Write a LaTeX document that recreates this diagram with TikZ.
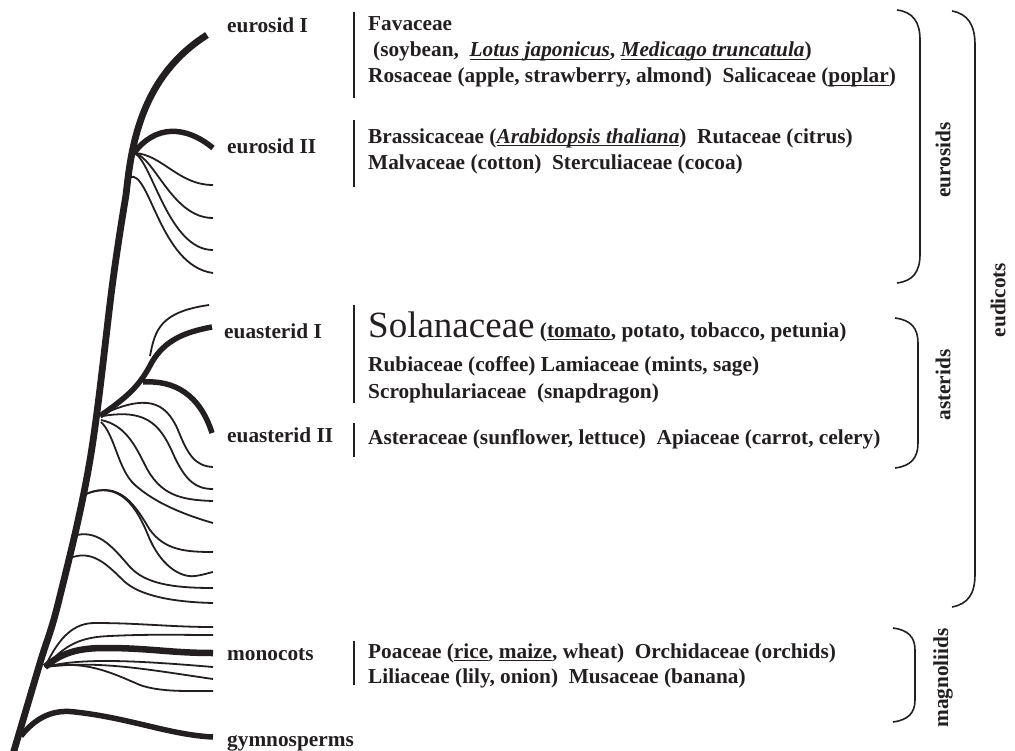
\documentclass[tikz,border=0pt]{standalone}
\usepackage{fontspec}
\setmainfont{Liberation Serif}
\definecolor{ink}{HTML}{231F20}
\newcommand{\fsz}{\fontsize{21.3bp}{24bp}\selectfont}
\newcommand{\bigfsz}{\fontsize{37bp}{40bp}\selectfont}
\newcommand{\myul}[1]{\leavevmode\setbox0=\hbox{#1}\rlap{\raisebox{-3.4bp}{\rule{\wd0}{1.5bp}}}\box0}
\tikzset{
  lbl/.style={font=\bfseries\fsz, anchor=base west, inner sep=0pt, text=ink},
  rlbl/.style={font=\bfseries\fsz, inner sep=0pt, text=ink, rotate=90},
  trunkline/.style={line width=6.8bp, draw=ink, line join=round},
  thickbr/.style={line width=5.5bp, draw=ink},
  thinbr/.style={line width=1.8bp, draw=ink},
  bar/.style={line width=1.6bp, draw=ink},
  bracepath/.style={line width=1.6bp, draw=ink},
}
\begin{document}
\begin{tikzpicture}[x=1bp,y=-1bp]
\useasboundingbox (0,0) rectangle (1015,751);

% ---- trunk ----
\coordinate (root) at (13,754);
\coordinate (top) at (207,35);
\draw[trunkline] plot[smooth, tension=0.6] coordinates {(13,754) (40,663) (59,600) (90,460) (113,280) (126,195)} .. controls (131,150) and (139,78) .. (top);

% ---- eurosid branches ----
\coordinate (fe) at (134,153);
\coordinate (fe2) at (130,177);
\coordinate (e2) at (213,148);
\draw[thickbr] (fe) .. controls (155,125) and (185,125) .. (e2);
\coordinate (t1) at (213,185);
\coordinate (t2) at (213,218);
\coordinate (t3) at (213,250);
\coordinate (t4) at (213,273);
\draw[thinbr] (fe) .. controls (162,154) and (178,185) .. (t1);
\draw[thinbr] (fe) .. controls (155,157) and (172,218) .. (t2);
\draw[thinbr] (fe) .. controls (152,160) and (168,250) .. (t3);
\draw[thinbr] (fe2) .. controls (150,170) and (160,266) .. (t4);

% ---- asterid branches ----
\coordinate (fa) at (100,416);
\coordinate (fa1) at (152,362);
\coordinate (a1) at (212,327);
\draw[thickbr] (fa) .. controls (130,395) and (140,385) .. (fa1) .. controls (165,340) and (185,332) .. (a1);
\coordinate (fa0) at (150,356);
\coordinate (a0) at (209,305);
\draw[thinbr] (fa0) .. controls (155,330) and (160,312) .. (a0);
\coordinate (fa2) at (143,382);
\coordinate (a2) at (212,433);
\draw[thickbr] (fa2) .. controls (175,380) and (200,395) .. (a2);
\coordinate (s1) at (213,467);
\coordinate (s2) at (213,489);
\coordinate (s3) at (213,501);
\coordinate (s4) at (213,523);
\coordinate (m1) at (178,430);
\coordinate (m2) at (175,458);
\coordinate (m3) at (145,465);
\coordinate (m4) at (135,485);
\draw[thinbr] (103,414) .. controls (145,395) and (165,400) .. (m1) .. controls (188,455) and (195,466) .. (s1);
\draw[thinbr] (103,416) .. controls (150,408) and (162,428) .. (m2) .. controls (186,480) and (195,489) .. (s2);
\draw[thinbr] (101,420) .. controls (125,425) and (135,445) .. (m3) .. controls (160,495) and (180,500) .. (s3);
\draw[thinbr] (101,422) .. controls (115,435) and (118,470) .. (m4) .. controls (155,503) and (185,515) .. (s4);

% ---- lower eudicot branches ----
\coordinate (fb) at (86,494);
\coordinate (b1) at (213,552);
\coordinate (b2) at (213,572);
\draw[thinbr] (fb) .. controls (120,480) and (135,505) .. (150,530) .. controls (165,550) and (185,552) .. (b1);
\draw[thinbr] (fb) .. controls (120,480) and (137,508) .. (148,535) .. controls (160,565) and (180,578) .. (195,576) .. controls (203,575) and (208,573) .. (b2);
\coordinate (fc) at (77,535);
\coordinate (c1) at (213,588);
\draw[thinbr] (fc) .. controls (100,530) and (115,550) .. (130,567) .. controls (145,583) and (170,588) .. (c1);
\coordinate (fd) at (73,557);
\coordinate (d1) at (213,603);
\draw[thinbr] (fd) .. controls (95,550) and (110,568) .. (125,582) .. controls (140,595) and (170,602) .. (d1);

% ---- monocots ----
\coordinate (fm) at (45,667);
\coordinate (n1) at (213,627);
\coordinate (n2) at (213,635);
\coordinate (n3) at (213,653);
\coordinate (n4) at (213,667);
\coordinate (n5) at (213,679);
\coordinate (n6) at (213,691);
\draw[thinbr] (fm) .. controls (60,635) and (75,623) .. (95,623) .. controls (140,623) and (170,627) .. (n1);
\draw[thinbr] (fm) .. controls (65,645) and (80,637) .. (110,636) .. controls (150,634) and (180,635) .. (n2);
\draw[line width=6.5bp, draw=ink] (fm) .. controls (62,652) and (80,648) .. (105,648) .. controls (150,648) and (170,653) .. (n3);
\draw[thinbr] (fm) .. controls (80,658) and (130,660) .. (n4);
\draw[thinbr] (fm) .. controls (100,660) and (150,670) .. (n5);
\draw[thinbr] (fm) .. controls (85,660) and (110,672) .. (140,685) .. controls (160,692) and (185,691) .. (n6);

% ---- gymnosperms ----
\coordinate (fg) at (21,736);
\coordinate (g1) at (213,737);
\draw[thickbr] (fg) .. controls (40,712) and (60,710) .. (75,712) .. controls (130,718) and (170,735) .. (g1);

% ---- clade labels ----
\node[lbl] (leI) at (227,33) {eurosid I};
\node[lbl] (leII) at (227,153) {eurosid II};
\node[lbl] (laI) at (224,338) {euasterid I};
\node[lbl] (laII) at (227,442) {euasterid II};
\node[lbl] (lmono) at (227,660) {monocots};
\node[lbl] (lgym) at (227,746) {gymnosperms};

% ---- bars ----
\coordinate (v1a) at (354,12); \coordinate (v1b) at (354,98);
\coordinate (v2a) at (354,120); \coordinate (v2b) at (354,187);
\coordinate (v3a) at (354,305); \coordinate (v3b) at (354,403);
\coordinate (v4a) at (354,423); \coordinate (v4b) at (354,457);
\coordinate (v5a) at (354,641); \coordinate (v5b) at (354,685);
\draw[bar] (v1a) -- (v1b);
\draw[bar] (v2a) -- (v2b);
\draw[bar] (v3a) -- (v3b);
\draw[bar] (v4a) -- (v4b);
\draw[bar] (v5a) -- (v5b);

% ---- family texts ----
\node[lbl] (fav) at (368,31) {Favaceae};
\node[lbl] (soy) at (373,57) {(soybean,\ \ \myul{\textit{Lotus japonicus}}, \myul{\textit{Medicago truncatula}})};
\node[lbl] (ros) at (368,83) {Rosaceae (apple, strawberry, almond)\ \ Salicaceae (\myul{poplar})};
\node[lbl] (bra) at (368,143) {Brassicaceae (\myul{\textit{Arabidopsis thaliana}})\ \ Rutaceae (citrus)};
\node[lbl] (mal) at (368,169) {Malvaceae (cotton)\ \ Sterculiaceae (cocoa)};
\node[lbl] (sol) at (368,337) {{\mdseries\bigfsz Solanaceae} (\myul{tomato}, potato, tobacco, petunia)};
\node[lbl] (rub) at (368,371) {Rubiaceae (coffee) Lamiaceae (mints, sage)};
\node[lbl] (scr) at (368,398) {Scrophulariaceae\ \ (snapdragon)};
\node[lbl] (ast) at (368,444) {Asteraceae (sunflower, lettuce)\ \ Apiaceae (carrot, celery)};
\node[lbl] (poa) at (368,658) {Poaceae (\myul{rice}, \myul{maize}, wheat)\ \ Orchidaceae (orchids)};
\node[lbl] (lil) at (368,683) {Liliaceae (lily, onion)\ \ Musaceae (banana)};

% ---- braces ----
\draw[bracepath] (897,10) .. controls (913,12) and (920,22) .. (920,40) -- (920,254) .. controls (920,272) and (913,281) .. (897,283);
\draw[bracepath] (952,11) .. controls (968,14) and (975,25) .. (975,45) -- (975,574) .. controls (975,594) and (968,604) .. (952,607);
\draw[bracepath] (895,318) .. controls (911,320) and (918,328) .. (918,343) -- (918,443) .. controls (918,458) and (911,466) .. (895,468);
\draw[bracepath] (893,628) .. controls (908,630) and (915,637) .. (915,650) -- (915,700) .. controls (915,713) and (908,720) .. (893,722);
\node[rlbl] (leur) at (943,160) {eurosids};
\node[rlbl] (last) at (943,385) {asterids};
\node[rlbl] (ledi) at (998,300) {eudicots};
\node[rlbl] (lmag) at (943,678) {magnoliids};
\end{tikzpicture}
\end{document}
